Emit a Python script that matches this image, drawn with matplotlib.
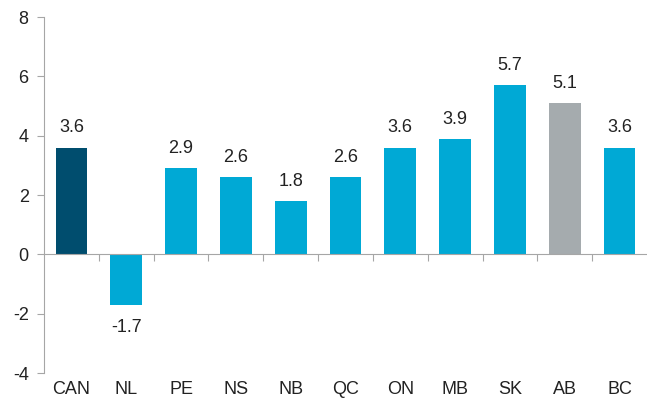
import numpy as np
import matplotlib.pyplot as plt
from matplotlib import rcParams
rcParams.update({"font.family": "Liberation Sans", "font.size": 13})

provinces = ["CAN", "NL", "PE", "NS", "NB", "QC", "ON", "MB", "SK", "AB", "BC"]
values = [3.6, -1.7, 2.9, 2.6, 1.8, 2.6, 3.6, 3.9, 5.7, 5.1, 3.6]
bar_colors = ["#004d6e", "#00a9d5", "#00a9d5", "#00a9d5", "#00a9d5", "#00a9d5",
              "#00a9d5", "#00a9d5", "#00a9d5", "#a5abae", "#00a9d5"]
yticks = [-4, -2, 0, 2, 4, 6, 8]

fig = plt.figure(figsize=(6.47, 4.07), dpi=100)
ax = fig.add_axes([0.068, 0.0835, 0.932, 0.8745])
x = np.arange(len(provinces))
ax.bar(x, values, width=0.58, color=bar_colors, zorder=2)

ax.set_xlim(-0.5, len(provinces) - 0.5)
ax.set_ylim(-4, 8)
ax.set_yticks(yticks)
ax.set_yticklabels([str(t) for t in yticks], color="#222222")
ax.tick_params(axis="y", direction="out", length=5, color="#a6a6a6", pad=6)

for s in ["top", "right"]:
    ax.spines[s].set_visible(False)
ax.spines["left"].set_color("#a6a6a6")
ax.spines["bottom"].set_color("#a6a6a6")
ax.spines["bottom"].set_position(("data", 0))
ax.set_xticks(x[:-1] + 0.5)
ax.set_xticklabels([])
ax.tick_params(axis="x", direction="out", length=5, color="#a6a6a6")

for xi, v in zip(x, values):
    if v >= 0:
        ax.annotate(f"{v:.1f}", (xi, v), xytext=(0, 8), textcoords="offset points",
                    ha="center", va="bottom", color="#222222")
    else:
        ax.annotate(f"{v:.1f}", (xi, v), xytext=(0, -10), textcoords="offset points",
                    ha="center", va="top", color="#222222")
    ax.annotate(provinces[xi], (xi, -4), xytext=(0, -6), textcoords="offset points",
                ha="center", va="top", color="#222222", annotation_clip=False)

fig.savefig("out.png", dpi=100)
